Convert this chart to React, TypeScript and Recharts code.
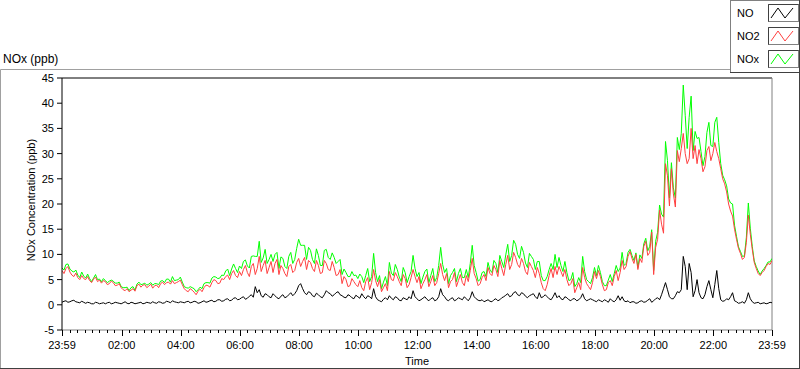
import React from 'react';
import { LineChart, Line, XAxis, YAxis, ReferenceLine } from 'recharts';

// Sampling step of the readings, in minutes from the 23:59 start
const STEP_MIN = 4;

// NO2 (ppb), every 4 minutes
const NO2 = [
  6.8, 6.2, 7.2, 7.6, 6.5, 5.9, 5.6, 6.3, 5.4, 5.0, 5.8, 5.2, 5.0, 5.6, 4.8, 4.4, 5.1, 5.5, 4.6, 4.9, 4.3, 4.8, 4.6, 4.0, 4.2, 4.7, 4.4, 3.8, 3.9, 4.2,
  3.4, 3.0, 2.8, 3.2, 2.6, 2.9, 3.2, 2.7, 3.8, 4.1, 3.5, 3.9, 4.0, 3.4, 3.7, 4.1, 3.3, 3.8, 3.9, 3.4, 4.2, 4.5, 4.0, 4.4, 4.5, 4.1, 4.8, 4.2, 4.4, 4.6,
  4.9, 4.0, 3.2, 2.8, 2.6, 3.2, 2.9, 2.5, 2.0, 2.7, 3.1, 2.6, 3.4, 3.9, 3.8, 3.5, 4.4, 5.0, 4.8, 4.2, 4.3, 5.2, 5.0, 5.6, 5.9, 5.0, 6.2, 6.8, 5.8, 5.4,
  6.6, 5.8, 7.0, 7.8, 6.4, 5.6, 7.6, 8.2, 6.0, 7.2, 9.6, 6.6, 7.8, 8.8, 6.2, 7.4, 8.6, 6.4, 8.2, 9.0, 6.0, 7.8, 7.2, 6.2, 5.6, 7.6, 8.0, 6.4, 6.8, 8.4,
  9.2, 7.6, 8.6, 9.4, 7.0, 8.8, 8.4, 7.2, 6.6, 8.8, 7.8, 6.2, 6.4, 8.8, 8.2, 7.0, 6.8, 8.6, 7.4, 5.8, 6.0, 7.0, 4.2, 5.6, 5.0, 3.6, 3.8, 5.2, 4.6, 4.0,
  3.6, 4.8, 3.4, 2.8, 4.6, 5.4, 3.0, 4.4, 7.0, 4.8, 3.6, 5.0, 2.6, 3.4, 4.2, 2.8, 6.6, 5.0, 4.8, 6.4, 5.6, 4.6, 3.8, 6.0, 5.2, 3.4, 4.0, 5.4, 7.0, 5.6,
  4.4, 5.6, 3.2, 4.2, 5.0, 6.0, 3.6, 4.6, 5.8, 3.8, 4.4, 6.2, 8.2, 6.0, 4.8, 6.2, 3.4, 4.6, 5.0, 6.4, 3.6, 4.8, 6.0, 4.4, 3.8, 5.8, 4.6, 6.8, 9.2, 6.2,
  5.2, 3.8, 4.2, 5.4, 6.0, 4.8, 7.4, 6.2, 5.8, 7.8, 7.0, 5.6, 8.8, 7.2, 5.8, 8.0, 9.8, 7.0, 8.0, 10.4, 9.4, 8.0, 7.4, 9.2, 8.2, 6.6, 6.0, 8.4, 7.6, 6.8,
  5.4, 7.4, 6.2, 4.4, 3.2, 2.8, 4.0, 5.8, 7.2, 5.4, 7.6, 6.0, 7.6, 6.6, 5.6, 7.0, 5.0, 3.8, 4.2, 5.2, 2.4, 3.4, 4.4, 3.0, 7.4, 5.4, 4.2, 3.6, 3.0, 4.4,
  6.6, 5.2, 6.8, 5.6, 4.0, 2.8, 3.0, 4.4, 4.8, 3.8, 5.6, 6.8, 4.8, 6.4, 8.8, 7.0, 7.6, 9.6, 10.6, 9.2, 8.2, 10.0, 7.0, 9.2, 8.4, 11.6, 12.6, 9.8, 10.4, 14.4,
  6.0, 11.4, 13.0, 18.8, 16.0, 14.2, 28.0, 25.6, 19.6, 27.0, 22.0, 19.4, 30.6, 28.4, 31.0, 34.0, 30.0, 28.0, 29.0, 35.0, 29.0, 31.6, 28.0, 30.8, 29.0, 26.4, 27.4, 30.6, 31.4, 28.6,
  30.0, 32.2, 30.4, 29.0, 27.0, 25.0, 24.0, 22.4, 20.0, 18.6, 17.6, 15.0, 13.0, 11.2, 10.2, 9.0, 9.4, 12.4, 17.8, 14.0, 11.0, 8.4, 7.2, 6.2, 5.8, 6.4, 6.8, 7.6, 8.2, 8.0,
  8.8,
];

// NO (ppb)
const NO = [
  0.5, 0.7, 0.8, 0.5, 0.6, 0.8, 0.9, 0.6, 0.5, 0.4, 0.7, 0.5, 0.3, 0.5, 0.4, 0.2, 0.2, 0.5, 0.4, 0.2, 0.3, 0.4, 0.2, 0.4, 0.5, 0.2, 0.3, 0.5, 0.4, 0.3,
  0.2, 0.4, 0.6, 0.3, 0.2, 0.5, 0.4, 0.2, 0.3, 0.4, 0.5, 0.2, 0.3, 0.5, 0.4, 0.3, 0.6, 0.4, 0.3, 0.6, 0.5, 0.3, 0.4, 0.7, 0.6, 0.4, 0.8, 0.6, 0.5, 0.4,
  0.6, 0.5, 0.4, 0.6, 0.7, 0.4, 0.5, 0.7, 0.6, 0.3, 0.4, 0.6, 0.8, 0.5, 0.6, 0.8, 0.9, 0.6, 0.7, 1.0, 1.0, 0.7, 0.8, 1.1, 1.2, 0.8, 0.9, 1.3, 1.4, 1.0,
  1.1, 1.4, 1.6, 1.1, 1.3, 1.7, 2.0, 1.5, 3.6, 2.4, 3.0, 1.8, 1.5, 2.2, 2.0, 1.6, 1.4, 2.2, 1.8, 1.4, 1.2, 1.7, 2.0, 1.4, 1.6, 2.0, 2.4, 1.8, 2.2, 2.8,
  3.8, 4.2, 3.2, 2.4, 2.0, 2.6, 2.4, 1.8, 1.6, 2.3, 2.0, 1.6, 1.4, 2.0, 2.8, 2.4, 2.2, 1.7, 2.0, 2.4, 2.6, 2.0, 1.8, 1.5, 1.4, 2.0, 1.8, 1.4, 1.2, 1.9,
  1.6, 1.3, 2.2, 1.6, 1.2, 1.8, 1.6, 1.2, 3.2, 1.6, 1.0, 0.8, 0.6, 1.1, 1.4, 1.0, 1.8, 1.3, 1.0, 1.6, 1.4, 0.9, 0.8, 1.4, 1.2, 1.0, 1.6, 1.2, 2.8, 1.6,
  1.2, 0.8, 1.0, 1.3, 1.6, 1.1, 0.8, 1.2, 1.4, 0.8, 1.0, 1.6, 3.2, 2.0, 1.6, 1.0, 0.8, 1.2, 1.4, 0.8, 1.0, 1.4, 1.2, 1.0, 1.6, 1.2, 0.8, 1.4, 2.6, 1.6,
  1.2, 0.9, 0.8, 1.0, 0.6, 0.8, 1.0, 0.7, 0.6, 1.0, 1.2, 0.8, 1.0, 1.4, 1.6, 1.9, 2.2, 1.6, 1.8, 2.4, 2.6, 2.0, 1.8, 2.4, 2.2, 1.7, 1.4, 1.8, 2.0, 2.2,
  1.6, 1.2, 2.4, 1.4, 1.6, 2.0, 1.6, 1.2, 1.0, 1.6, 2.4, 1.4, 1.8, 1.2, 1.0, 1.6, 1.4, 1.0, 0.8, 1.2, 1.2, 0.8, 1.0, 1.4, 2.2, 1.2, 0.8, 1.0, 1.2, 1.0,
  0.8, 0.6, 1.0, 0.8, 0.6, 1.0, 0.8, 0.5, 1.2, 0.8, 0.6, 1.0, 1.8, 0.9, 1.6, 0.8, 0.6, 0.8, 0.4, 0.6, 0.6, 0.3, 0.4, 0.7, 0.8, 0.5, 0.6, 0.9, 1.2, 0.5,
  0.8, 1.2, 1.4, 1.0, 2.0, 3.2, 4.4, 3.0, 1.6, 1.2, 1.2, 1.8, 2.6, 2.4, 3.0, 9.6, 7.6, 3.0, 8.2, 6.4, 1.6, 2.8, 5.0, 2.4, 1.4, 1.2, 2.0, 3.6, 4.8, 3.0,
  1.4, 4.0, 6.8, 3.2, 1.0, 0.7, 0.8, 1.2, 1.0, 1.6, 2.4, 0.8, 0.6, 0.3, 0.4, 0.6, 0.3, 1.0, 2.4, 1.2, 0.6, 0.3, 0.4, 0.5, 0.2, 0.3, 0.4, 0.2, 0.3, 0.5,
  0.4,
];

// NOx (ppb)
const NOX = [
  7.3, 6.9, 8.0, 8.1, 7.1, 6.7, 6.5, 6.9, 5.9, 5.4, 6.5, 5.7, 5.3, 6.1, 5.2, 4.6, 5.3, 6.0, 5.0, 5.1, 4.6, 5.2, 4.8, 4.4, 4.7, 4.9, 4.7, 4.3, 4.3, 4.5,
  3.6, 3.4, 3.4, 3.5, 2.8, 3.4, 3.6, 2.9, 4.1, 4.5, 4.0, 4.1, 4.3, 3.9, 4.1, 4.4, 3.9, 4.2, 4.2, 4.0, 4.7, 4.8, 4.4, 5.1, 5.1, 4.5, 5.6, 4.8, 4.9, 5.0,
  5.5, 4.5, 3.6, 3.4, 3.3, 3.6, 3.4, 3.2, 2.6, 3.0, 3.5, 3.2, 4.2, 4.4, 4.4, 4.3, 5.3, 5.6, 5.5, 5.2, 5.3, 5.9, 5.8, 6.7, 7.1, 5.8, 7.1, 8.1, 7.2, 6.4,
  7.7, 7.2, 8.6, 8.9, 7.7, 7.3, 9.6, 9.7, 9.6, 9.6, 12.6, 8.4, 9.3, 11.0, 8.2, 9.0, 10.0, 8.6, 10.0, 10.4, 7.2, 9.5, 9.2, 7.6, 7.2, 9.6, 10.4, 8.2, 9.0, 11.2,
  13.0, 11.8, 11.8, 11.8, 9.0, 11.4, 10.8, 9.0, 8.2, 11.1, 9.8, 7.8, 7.8, 10.8, 11.0, 9.4, 9.0, 10.3, 9.4, 8.2, 8.6, 9.0, 6.0, 7.1, 6.4, 5.6, 5.6, 6.6, 5.8, 5.9,
  5.2, 6.1, 5.6, 4.4, 5.8, 7.2, 4.6, 5.6, 10.2, 6.4, 4.6, 5.8, 3.2, 4.5, 5.6, 3.8, 8.4, 6.3, 5.8, 8.0, 7.0, 5.5, 4.6, 7.4, 6.4, 4.4, 5.6, 6.6, 9.8, 7.2,
  5.6, 6.4, 4.2, 5.5, 6.6, 7.1, 4.4, 5.8, 7.2, 4.6, 5.4, 7.8, 11.4, 8.0, 6.4, 7.2, 4.2, 5.8, 6.4, 7.2, 4.6, 6.2, 7.2, 5.4, 5.4, 7.0, 5.4, 8.2, 11.8, 7.8,
  6.4, 4.7, 5.0, 6.4, 6.6, 5.6, 8.4, 6.9, 6.4, 8.8, 8.2, 6.4, 9.8, 8.6, 7.4, 9.9, 12.0, 8.6, 9.8, 12.8, 12.0, 10.0, 9.2, 11.6, 10.4, 8.3, 7.4, 10.2, 9.6, 9.0,
  7.0, 8.6, 8.6, 5.8, 4.8, 4.8, 5.6, 7.0, 8.2, 7.0, 10.0, 7.4, 9.4, 7.8, 6.6, 8.6, 6.4, 4.8, 5.0, 6.4, 3.6, 4.2, 5.4, 4.4, 9.6, 6.6, 5.0, 4.6, 4.2, 5.4,
  7.4, 5.8, 7.8, 6.4, 4.6, 3.8, 3.8, 4.9, 6.0, 4.6, 6.2, 7.8, 6.6, 7.3, 10.4, 7.8, 8.2, 10.4, 11.0, 9.8, 8.8, 10.3, 7.4, 9.9, 9.2, 12.1, 13.2, 10.7, 11.6, 14.9,
  6.8, 12.6, 14.4, 19.8, 18.0, 17.4, 32.4, 28.6, 21.2, 28.2, 23.2, 21.2, 33.2, 30.8, 34.0, 43.6, 37.6, 31.0, 37.2, 41.4, 30.6, 34.4, 33.0, 33.2, 30.4, 27.6, 29.4, 34.2, 36.2, 31.6,
  31.4, 36.2, 37.2, 32.2, 28.0, 25.7, 24.8, 23.6, 21.0, 20.2, 20.0, 15.8, 13.6, 11.5, 10.6, 9.6, 9.7, 13.4, 20.2, 15.2, 11.6, 8.7, 7.6, 6.7, 6.0, 6.7, 7.2, 7.8, 8.5, 8.5,
  9.2,
];

const SERIES_NAMES = ['NO', 'NO2', 'NOx'];
const SERIES_COLORS = ['#000000', '#ff4040', '#00ff00'];

const MAJOR_TICKS = [0, 121, 241, 361, 481, 601, 721, 841, 961, 1081, 1201, 1321, 1440];
const MAJOR_LABELS = ['23:59', '02:00', '04:00', '06:00', '08:00', '10:00', '12:00', '14:00', '16:00', '18:00', '20:00', '22:00', '23:59'];
const Y_TICKS = [-5, 0, 5, 10, 15, 20, 25, 30, 35, 40, 45];

const MINOR_TICKS: number[] = [];
for (let m = 16; m < 1440; m += 15) {
  if (MAJOR_TICKS.indexOf(m) < 0) MINOR_TICKS.push(m);
}
const ALL_TICKS = [...MAJOR_TICKS, ...MINOR_TICKS].sort((a, b) => a - b);

const data = NO2.map((v, i) => ({ t: i * STEP_MIN, no: NO[i], no2: v, nox: NOX[i] }));

const FONT = '"Liberation Sans", Arial, sans-serif';

const XTick = (props: any) => {
  const { x, y, payload } = props;
  const idx = MAJOR_TICKS.indexOf(payload.value);
  const major = idx >= 0;
  const xx = Math.round(x) + 0.5;
  return (
    <g>
      <line x1={xx} x2={xx} y1={y} y2={y + (major ? 6 : 3)} stroke="#000" />
      {major && (
        <text x={x} y={y + 19} textAnchor="middle" fontSize={11} fill="#000" fontFamily={FONT}>
          {MAJOR_LABELS[idx]}
        </text>
      )}
    </g>
  );
};

const LegendIcon = ({ top, color }: { top: number; color: string }) => (
  <g>
    <rect x={768.5} y={top + 0.5} width={30} height={17} fill="#fff" stroke="#808080" />
    <line x1={768.5} y1={top + 0.5} x2={798.5} y2={top + 0.5} stroke="#404040" />
    <line x1={768.5} y1={top + 0.5} x2={768.5} y2={top + 17.5} stroke="#404040" />
    <polyline
      points={`${771},${top + 14} ${778},${top + 4} ${785},${top + 14} ${793},${top + 4}`}
      fill="none"
      stroke={color}
      strokeWidth={1}
    />
  </g>
);

export default function App() {
  return (
    <div style={{ position: 'absolute', left: 0, top: 0, width: 800, height: 369, background: '#fff', fontFamily: FONT }}>
      <svg width={800} height={369} style={{ position: 'absolute', left: 0, top: 0 }}>
        <line x1={0.5} y1={69.5} x2={799.5} y2={69.5} stroke="#a0a0a0" />
        <line x1={0.5} y1={69.5} x2={0.5} y2={368.5} stroke="#a0a0a0" />
        <line x1={0} y1={368.5} x2={800} y2={368.5} stroke="#404040" />
        <line x1={799.5} y1={69} x2={799.5} y2={369} stroke="#404040" />
      </svg>
      <div style={{ position: 'absolute', left: 0, top: 0 }}>
        <LineChart width={800} height={369} data={data} margin={{ top: 78, right: 28, bottom: 0, left: 0 }}>
          <XAxis
            dataKey="t"
            type="number"
            domain={[0, 1440]}
            ticks={ALL_TICKS}
            interval={0}
            tick={<XTick />}
            tickLine={false}
            tickSize={0}
            tickMargin={0}
            axisLine={{ stroke: '#808080' }}
            height={39}
            allowDataOverflow
          />
          <YAxis
            type="number"
            domain={[-5, 45]}
            ticks={Y_TICKS}
            interval={0}
            width={62}
            tickSize={5}
            tickMargin={3}
            axisLine={{ stroke: '#000' }}
            tickLine={{ stroke: '#000' }}
            tick={{ fontSize: 11, fill: '#000', fontFamily: FONT }}
            allowDataOverflow
          />
          <ReferenceLine y={45} stroke="#000" />
          <ReferenceLine x={1440} stroke="#808080" />
          <Line type="linear" dataKey="nox" name={SERIES_NAMES[2]} stroke={SERIES_COLORS[2]} strokeWidth={1} dot={false} isAnimationActive={false} />
          <Line type="linear" dataKey="no2" name={SERIES_NAMES[1]} stroke={SERIES_COLORS[1]} strokeWidth={1} dot={false} isAnimationActive={false} />
          <Line type="linear" dataKey="no" name={SERIES_NAMES[0]} stroke={SERIES_COLORS[0]} strokeWidth={1} dot={false} isAnimationActive={false} />
        </LineChart>
      </div>
      <svg width={800} height={369} style={{ position: 'absolute', left: 0, top: 0, pointerEvents: 'none' }}>
        <text x={3} y={63} fontSize={12} fill="#000" fontFamily={FONT}>NOx (ppb)</text>
        <text transform="translate(35,200) rotate(-90)" textAnchor="middle" fontSize={11} fill="#000" fontFamily={FONT}>
          NOx Concentration (ppb)
        </text>
        <text x={417} y={365} textAnchor="middle" fontSize={11} fill="#000" fontFamily={FONT}>Time</text>
        <rect x={730.5} y={0.5} width={69} height={72} fill="#fff" stroke="#808080" />
        <line x1={730} y1={72.5} x2={800} y2={72.5} stroke="#404040" />
        <line x1={799.5} y1={0} x2={799.5} y2={73} stroke="#404040" />
        {SERIES_NAMES.map((name, i) => (
          <g key={name}>
            <text x={737} y={17 + i * 23} fontSize={11} fill="#000" fontFamily={FONT}>{name}</text>
            <LegendIcon top={4 + i * 23} color={SERIES_COLORS[i]} />
          </g>
        ))}
      </svg>
    </div>
  );
}
